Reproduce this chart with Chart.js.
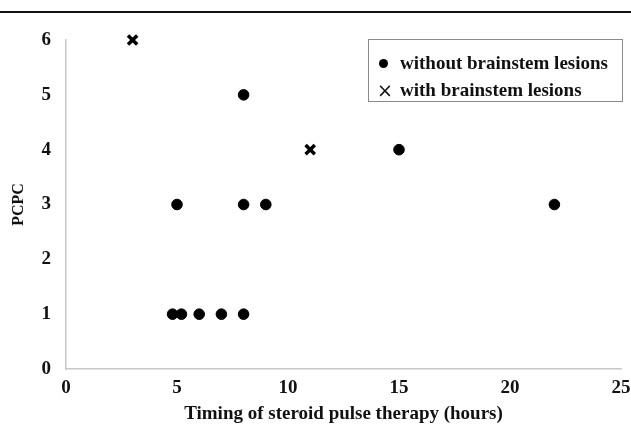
<!DOCTYPE html>
<html>
<head>
<meta charset="utf-8">
<script src="https://cdn.jsdelivr.net/npm/chart.js@4"></script>
<style>
  body { margin: 0; background: #fff; }
  #wrap { position: relative; width: 631px; height: 429px; }
  #topline { position: absolute; left: 0; top: 11px; width: 631px; height: 2px; background: #111; }
  #legend {
    position: absolute; left: 368px; top: 39px; width: 255px; height: 63px;
    border: 1px solid #8a8a8a; box-sizing: border-box;
    font-family: "Liberation Serif", serif; font-weight: bold; font-size: 19px; color: #111;
  }
  #legend div { position: absolute; left: 31px; white-space: nowrap; line-height: 20px; }
  .dot { position: absolute; left: 10px; top: 19px; width: 9px; height: 9px; border-radius: 50%; background: #000; }
  .cross { position: absolute; left: 8px; top: 41px; font-family: "DejaVu Sans", sans-serif; font-weight: normal; font-size: 19px; line-height: 19px; }
</style>
</head>
<body>
<div id="wrap">
  <canvas id="chart" width="631" height="429"></canvas>
  <div id="topline"></div>
  <div id="legend">
    <span class="dot"></span>
    <div style="top:13px">without brainstem lesions</div>
    <span class="cross">×</span>
    <div style="top:40px">with brainstem lesions</div>
  </div>
</div>
<script>
// patients without brainstem lesions
const withoutX = [4.8, 5.2, 6, 7, 8, 5, 8, 9, 22, 8, 15];
const withoutY = [1, 1, 1, 1, 1, 3, 3, 3, 3, 5, 4];
// patients with brainstem lesions
const withX = [3, 11];
const withY = [6, 4];

const xTicks = [0, 5, 10, 15, 20, 25];
const yTicks = [0, 1, 2, 3, 4, 5, 6];

const toPts = (xs, ys) => xs.map((x, i) => ({ x: x, y: ys[i] }));
const serif = { family: '"Liberation Serif", serif', weight: 'bold', size: 19 };

const ctx = document.getElementById('chart').getContext('2d');
new Chart(ctx, {
  type: 'scatter',
  data: {
    datasets: [
      {
        label: 'without brainstem lesions',
        data: toPts(withoutX, withoutY),
        pointStyle: 'circle',
        pointRadius: 5.3,
        backgroundColor: '#000',
        borderColor: '#000'
      },
      {
        label: 'with brainstem lesions',
        data: toPts(withX, withY),
        pointStyle: 'crossRot',
        pointRadius: 6.5,
        borderWidth: 3.5,
        borderColor: '#000'
      }
    ]
  },
  options: {
    responsive: false,
    animation: false,
    clip: false,
    layout: { padding: { top: 40, right: 0, left: 0, bottom: 0 } },
    plugins: { legend: { display: false }, tooltip: { enabled: false } },
    scales: {
      x: {
        type: 'linear',
        min: 0, max: 25,
        afterBuildTicks: s => { s.ticks = xTicks.map(v => ({ value: v })); },
        afterFit: s => { s.height = 60; s.paddingRight = 8; },
        grid: { display: false, drawTicks: false },
        border: { color: '#c8c8c8', width: 1.5 },
        ticks: { color: '#111', font: serif, padding: 8 },
        title: { display: true, text: 'Timing of steroid pulse therapy (hours)', color: '#111', font: serif, padding: { top: 2 } }
      },
      y: {
        min: 0, max: 6,
        afterBuildTicks: s => { s.ticks = yTicks.map(v => ({ value: v })); },
        afterFit: s => { s.width = 66; },
        grid: { display: false, drawTicks: false },
        border: { color: '#c8c8c8', width: 1.5 },
        ticks: { color: '#111', font: serif, padding: 15 },
        title: { display: true, text: 'PCPC', color: '#111', font: { family: '"Liberation Serif", serif', weight: 'bold', size: 16 }, padding: { top: 9, bottom: 0 } }
      }
    }
  }
});
</script>
</body>
</html>
